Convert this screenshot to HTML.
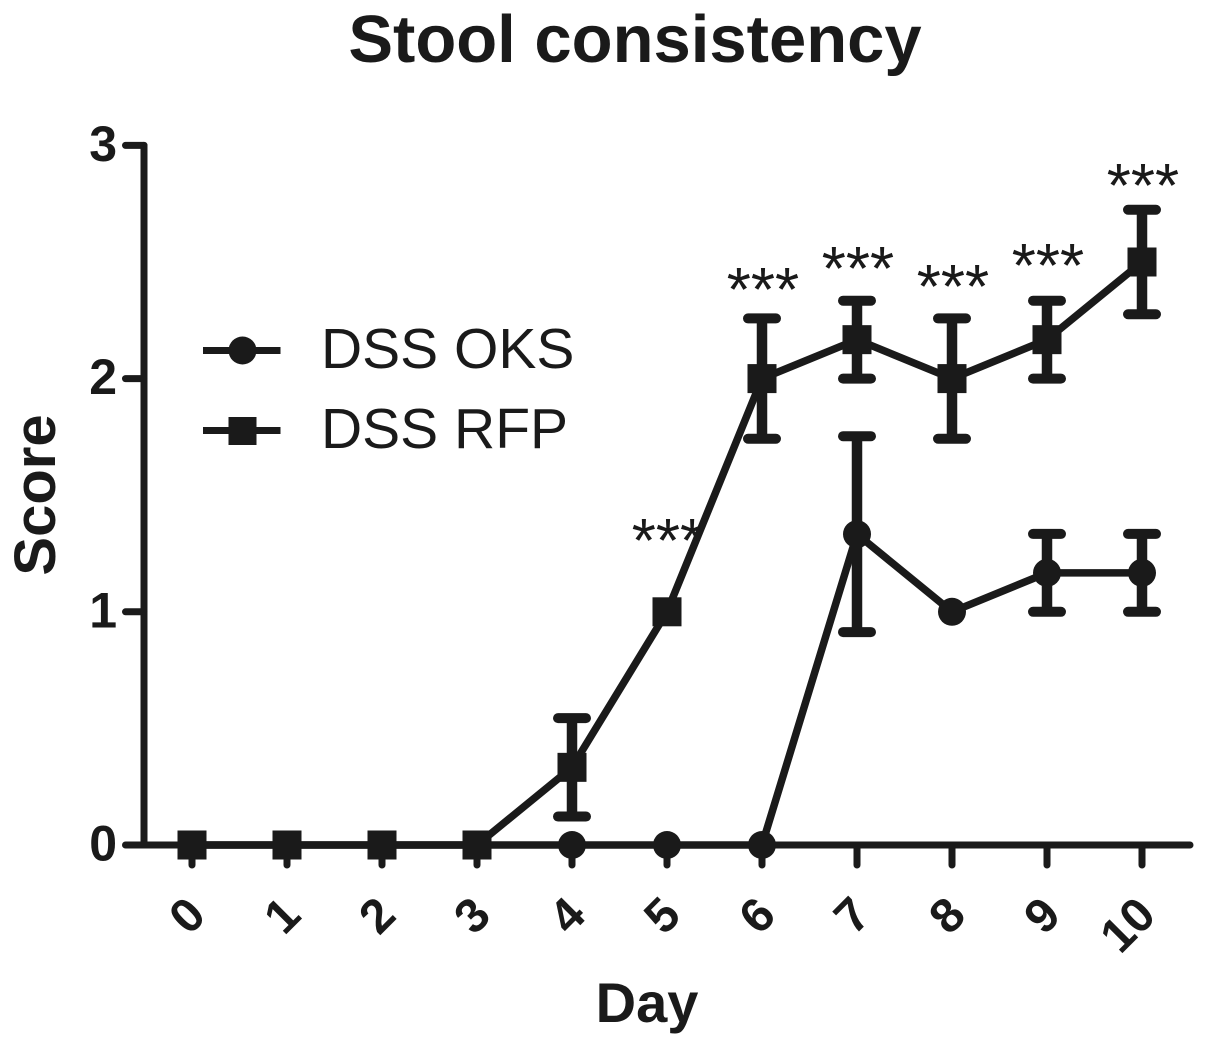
<!DOCTYPE html>
<html>
<head>
<meta charset="utf-8">
<style>
html,body{margin:0;padding:0;background:#fff;}
svg{display:block;}
text{font-family:"Liberation Sans",Arial,sans-serif;fill:#1a1a1a;}
</style>
</head>
<body>
<svg id="chart" width="1205" height="1046" viewBox="0 0 1205 1046" xmlns="http://www.w3.org/2000/svg">
<text x="635" y="62" font-size="67" font-weight="bold" text-anchor="middle">Stool consistency</text>
<text x="647" y="1022" font-size="56" font-weight="bold" text-anchor="middle">Day</text>
<text transform="translate(55,495) rotate(-90)" font-size="58" font-weight="bold" text-anchor="middle">Score</text>
<g id="plot"></g>
</svg>
<script>
const days = [0,1,2,3,4,5,6,7,8,9,10];
const yTicks = [0,1,2,3];
const oksMean = [0,0,0,0,0,0,0,1.333,1,1.167,1.167];
const oksErr  = [0,0,0,0,0,0,0,0.42,0,0.167,0.167];
const rfpMean = [0,0,0,0,0.333,1,2,2.167,2,2.167,2.5];
const rfpErr  = [0,0,0,0,0.211,0,0.258,0.167,0.258,0.167,0.224];
const sigDays = [5,6,7,8,9,10];
const sigLabels = ['***','***','***','***','***','***'];
const sigHeights = [1.338,2.414,2.504,2.427,2.517,2.86];

const NS = 'http://www.w3.org/2000/svg';
const plot = document.getElementById('plot');
const xPos = d => 192 + d * 95;
const yPos = v => 845 - v * 233.2;
const ink = '#1a1a1a';

function add(tag, attrs, parent) {
  const el = document.createElementNS(NS, tag);
  for (const k in attrs) el.setAttribute(k, attrs[k]);
  (parent || plot).appendChild(el);
  return el;
}

// Axes
const yAxis = add('line', {x1:144,y1:yPos(3),x2:144,y2:yPos(0),stroke:ink,'stroke-width':7,'stroke-linecap':'round'});


const xAxis = add('line', {x1:144,y1:yPos(0),x2:1190,y2:yPos(0),stroke:ink,'stroke-width':7,'stroke-linecap':'round'});



yTicks.forEach(t => {
  const tick = add('line', {x1:125.5,y1:yPos(t),x2:144,y2:yPos(t),stroke:ink,'stroke-width':7,'stroke-linecap':'round'});
  
  
  const label = add('text', {x:117,y:yPos(t)+15.5,'font-size':50,'font-weight':'bold','text-anchor':'end'});
  label.textContent = t;
  
  
});

days.forEach(d => {
  const tick = add('line', {x1:xPos(d),y1:yPos(0),x2:xPos(d),y2:yPos(0)+20,stroke:ink,'stroke-width':7,'stroke-linecap':'round'});
  
  
  const lx = xPos(d) + 16, ly = 917.5;
  const label = add('text', {x:lx,y:ly,'font-size':48,'font-weight':'bold','text-anchor':'end',transform:`rotate(-45 ${lx} ${ly})`});
  label.textContent = d;
  
  
});

function drawSeries(name, means, errs, marker) {
  const g = add('g', {});
  
  
  const points = means.map((m, i) => xPos(days[i]) + ',' + yPos(m)).join(' ');
  const line = add('polyline', {points, fill:'none', stroke:ink, 'stroke-width':7.5}, g);
  
  
  means.forEach((m, i) => {
    const x = xPos(days[i]);
    if (errs[i] > 0) {
      const hi = yPos(m + errs[i]), lo = yPos(m - errs[i]);
      const bar = add('path', {d:`M${x} ${hi}V${lo}`, fill:'none', stroke:ink, 'stroke-width':10.5}, g);
      
      
      const caps = add('path', {d:`M${x-14} ${hi}H${x+14}M${x-14} ${lo}H${x+14}`, fill:'none', stroke:ink, 'stroke-width':10, 'stroke-linecap':'round'}, g);
      
      
    }
    const mk = marker === 'circle'
      ? add('circle', {cx:x, cy:yPos(m), r:14, fill:ink}, g)
      : add('rect', {x:x-14.5, y:yPos(m)-14.5, width:29, height:29, fill:ink}, g);
    
    
  });
}
drawSeries('dss-oks', oksMean, oksErr, 'circle');
drawSeries('dss-rfp', rfpMean, rfpErr, 'square');

sigDays.forEach((d, i) => {
  const s = add('text', {x:xPos(d)+1,y:yPos(sigHeights[i])+29,'font-size':62,'text-anchor':'middle'});
  s.textContent = sigLabels[i];
  
  
});

// Legend
const legend = add('g', {});


const l1 = add('line', {x1:203,y1:350.5,x2:280.5,y2:350.5,stroke:ink,'stroke-width':7}, legend);


const c1 = add('circle', {cx:242.5,cy:350.5,r:14,fill:ink}, legend);


const t1 = add('text', {x:321,y:368,'font-size':57}, legend);
t1.textContent = 'DSS OKS';


const l2 = add('line', {x1:203,y1:430.5,x2:280.5,y2:430.5,stroke:ink,'stroke-width':7}, legend);


const r2 = add('rect', {x:228.5,y:417,width:28,height:28,fill:ink}, legend);


const t2 = add('text', {x:321,y:448,'font-size':57}, legend);
t2.textContent = 'DSS RFP';


</script>
</body>
</html>
